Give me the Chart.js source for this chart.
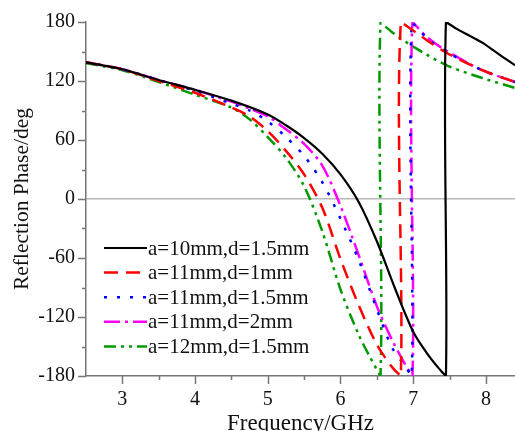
<!DOCTYPE html>
<html>
<head>
<meta charset="utf-8">
<script src="https://cdn.jsdelivr.net/npm/chart.js@4.4.0/dist/chart.umd.min.js"></script>
<style>
  html, body { margin: 0; padding: 0; background: #ffffff; }
</style>
</head>
<body>
<canvas id="phaseChart" width="515" height="431"></canvas>
<script>
// series labels
const seriesLabels = [
  "a=10mm,d=1.5mm",
  "a=11mm,d=1mm",
  "a=11mm,d=1.5mm",
  "a=11mm,d=2mm",
  "a=12mm,d=1.5mm",
];

// frequency (GHz) / reflection phase (deg)
const freqA10D15 = [2.5, 3, 3.5, 4, 4.5, 5, 5.25, 5.5, 5.75, 6, 6.25, 6.5, 6.75, 7, 7.2, 7.35, 7.45, 7.45, 7.6, 7.75, 7.95, 8.2, 8.4];
const phaseA10D15 = [139, 132, 121, 111, 100, 86, 75, 62, 46, 25, -3, -43, -91, -135, -158, -172, -180, 180, 173, 167, 159, 146, 136];

const freqA11D1 = [2.5, 3, 3.5, 4, 4.5, 4.75, 5, 5.25, 5.5, 5.75, 6, 6.25, 6.5, 6.7, 6.83, 6.83, 7.1, 7.45, 7.95, 8.4];
const phaseA11D1 = [139, 132, 120, 108, 93, 84, 69, 49, 25, -9, -61, -108, -148, -170, -180, 180, 166, 149, 131, 119];

const freqA11D15 = [2.5, 3, 3.5, 4, 4.5, 4.75, 5, 5.25, 5.5, 5.75, 6, 6.25, 6.5, 6.7, 6.85, 6.98, 6.98, 7.2, 7.45, 7.95, 8.4];
const phaseA11D15 = [139, 132, 121, 110, 97, 90, 79, 63, 44, 17, -20, -62, -112, -150, -166, -180, 180, 163, 150, 131, 119];

const freqA11D2 = [2.5, 3, 3.5, 4, 4.5, 4.75, 5, 5.25, 5.5, 5.75, 6, 6.25, 6.5, 6.7, 6.85, 6.99, 6.99, 7.2, 7.45, 7.95, 8.4];
const phaseA11D2 = [139, 132, 121, 111, 99, 92, 84, 71, 56, 34, -7, -57, -109, -142, -163, -180, 180, 164, 151, 131, 119];

const freqA12D15 = [2.5, 3, 3.5, 4, 4.5, 4.75, 5, 5.25, 5.5, 5.75, 6, 6.25, 6.4, 6.55, 6.55, 6.72, 7, 7.46, 7.95, 8.4];
const phaseA12D15 = [138, 131, 119, 106, 93, 81, 63, 42, 13, -33, -92, -138, -160, -180, 179, 169, 155, 136, 123, 113];

// tick labels
const xTickLabels = [3, 4, 5, 6, 7, 8];
const yTickLabels = [-180, -120, -60, 0, 60, 120, 180];

const toPoints = (xs, ys) => xs.map((x, i) => ({ x: x, y: ys[i] }));

const serifFont = '"Liberation Serif", "Times New Roman", serif';

// outward tick marks, major + minor
const axisTicks = {
  id: "axisTicks",
  afterDraw(chart) {
    const { ctx, chartArea } = chart;
    const xs = chart.scales.x;
    const ys = chart.scales.y;
    ctx.save();
    ctx.strokeStyle = "#777";
    ctx.lineWidth = 1.5;
    ctx.beginPath();
    for (let v = -180; v <= 180; v += 30) {
      const py = Math.round(ys.getPixelForValue(v)) + 0.5;
      const len = yTickLabels.includes(v) ? 8 : 4;
      ctx.moveTo(chartArea.left - len, py);
      ctx.lineTo(chartArea.left, py);
    }
    for (let v = 3; v <= xs.max + 0.001; v += 0.5) {
      const px = Math.round(xs.getPixelForValue(v)) + 0.5;
      const len = xTickLabels.includes(v) ? 8 : 4;
      ctx.moveTo(px, chartArea.bottom);
      ctx.lineTo(px, chartArea.bottom + len);
    }
    ctx.stroke();
    ctx.restore();
  },
};

// legend drawn inside the plot, lower left
const lineLegend = {
  id: "lineLegend",
  afterDatasetsDraw(chart) {
    const ctx = chart.ctx;
    chart.data.datasets.forEach((ds, i) => {
      const yy = 248 + i * 24.6;
      ctx.save();
      ctx.strokeStyle = ds.borderColor;
      ctx.lineWidth = ds.borderWidth;
      ctx.setLineDash(ds.borderDash || []);
      ctx.beginPath();
      ctx.moveTo(104, yy);
      ctx.lineTo(147, yy);
      ctx.stroke();
      ctx.setLineDash([]);
      ctx.fillStyle = "#111";
      ctx.font = "21px " + serifFont;
      ctx.textBaseline = "middle";
      ctx.fillText(ds.label, 148, yy + 1);
      ctx.restore();
    });
  },
};

const ctx = document.getElementById("phaseChart");

new Chart(ctx, {
  type: "line",
  data: {
    datasets: [
      {
        label: seriesLabels[0],
        data: toPoints(freqA10D15, phaseA10D15),
        borderColor: "#000000",
        borderWidth: 2.2,
        borderDash: [],
      },
      {
        label: seriesLabels[1],
        data: toPoints(freqA11D1, phaseA11D1),
        borderColor: "#ff0000",
        borderWidth: 2.5,
        borderDash: [14, 8],
      },
      {
        label: seriesLabels[2],
        data: toPoints(freqA11D15, phaseA11D15),
        borderColor: "#0000ff",
        borderWidth: 2.5,
        borderDash: [3, 10],
      },
      {
        label: seriesLabels[3],
        data: toPoints(freqA11D2, phaseA11D2),
        borderColor: "#ff00ff",
        borderWidth: 2.5,
        borderDash: [16, 5, 3, 5],
      },
      {
        label: seriesLabels[4],
        data: toPoints(freqA12D15, phaseA12D15),
        borderColor: "#009a00",
        borderWidth: 2.5,
        borderDash: [12, 5, 3, 5, 3, 5],
      },
    ],
  },
  options: {
    responsive: false,
    animation: false,
    devicePixelRatio: 1,
    elements: {
      point: { radius: 0 },
      line: { tension: 0.3, fill: false },
    },
    layout: { padding: { top: 22, right: 0, left: 0, bottom: 0 } },
    plugins: {
      legend: { display: false },
      tooltip: { enabled: false },
    },
    scales: {
      x: {
        type: "linear",
        min: 2.5,
        max: 8.4,
        afterBuildTicks: (scale) => {
          scale.ticks = xTickLabels.map((v) => ({ value: v }));
        },
        afterFit: (scale) => {
          scale.height = 55;
          scale.paddingLeft = 0;
          scale.paddingRight = 0;
        },
        ticks: {
          padding: 12,
          color: "#111",
          font: { family: serifFont, size: 20 },
          callback: (v) => String(v),
          maxRotation: 0,
          autoSkip: false,
        },
        grid: { display: false, drawTicks: false },
        border: { display: true, color: "#777", width: 1.5 },
        title: {
          display: true,
          text: "Frequency/GHz",
          color: "#111",
          font: { family: serifFont, size: 23, lineHeight: 1 },
          padding: { top: 0, bottom: -4 },
        },
      },
      y: {
        type: "linear",
        min: -180,
        max: 180,
        afterFit: (scale) => {
          scale.width = 86;
          scale.paddingTop = 0;
          scale.paddingBottom = 0;
        },
        ticks: {
          stepSize: 30,
          padding: 11,
          color: "#111",
          font: { family: serifFont, size: 20 },
          callback: (v) => (yTickLabels.includes(v) ? String(v) : ""),
          autoSkip: false,
        },
        grid: {
          drawTicks: false,
          lineWidth: 1.5,
          color: (c) => (c.tick && c.tick.value === 0 ? "#b8b8b8" : "rgba(0,0,0,0)"),
        },
        border: { display: true, color: "#777", width: 1.5 },
        title: {
          display: true,
          text: "Reflection Phase/deg",
          color: "#111",
          font: { family: serifFont, size: 21.5, lineHeight: 1 },
          padding: { top: 12, bottom: 0 },
        },
      },
    },
  },
  plugins: [axisTicks, lineLegend],
});
</script>
</body>
</html>
